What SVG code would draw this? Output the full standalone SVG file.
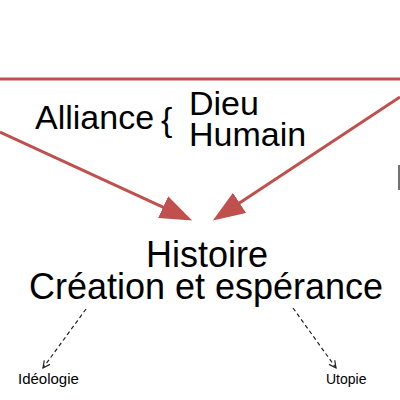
<svg xmlns="http://www.w3.org/2000/svg" width="400" height="400" viewBox="0 0 400 400">
<style>
.red{stroke:#c0504d;stroke-width:3;fill:none}
.dash{stroke:#222;stroke-width:1.2;stroke-dasharray:4 3;fill:none}
text{font-family:"Liberation Sans",Arial,sans-serif;fill:#000}
.big{font-size:34px}
.main{font-size:36px;text-anchor:middle}
</style>
<defs>
<marker id="ah" markerUnits="userSpaceOnUse" markerWidth="32" markerHeight="24" viewBox="0 0 32 24" refX="1" refY="12" orient="auto">
<path d="M0,0 L32,12 L0,24 z" fill="#c0504d"/>
</marker>
<marker id="oh" markerUnits="userSpaceOnUse" markerWidth="9" markerHeight="9" viewBox="0 0 9 9" refX="8" refY="4.5" orient="auto">
<path d="M1,1 L8,4.5 L1,8" fill="none" stroke="#222" stroke-width="1.2"/>
</marker>
</defs>
<g id="connectors">
<line class="red" x1="0" y1="79" x2="400" y2="79"/>
<line class="red" x1="0" y1="132" x2="164" y2="207.6" marker-end="url(#ah)"/>
<line class="red" x1="400" y1="97" x2="238.7" y2="203.4" marker-end="url(#ah)"/>
<line class="dash" x1="86" y1="309" x2="43" y2="368" marker-end="url(#oh)"/>
<line class="dash" x1="293" y1="308" x2="336" y2="368" marker-end="url(#oh)"/>
</g>
<g id="alliance">
<text class="big" x="35" y="129">Alliance</text>
<text class="big" x="161" y="131">{</text>
<text class="big" x="189" y="115">Dieu</text>
<text class="big" x="189" y="146">Humain</text>
</g>
<g id="histoire">
<text class="main" x="207" y="267">Histoire</text>
<text class="main" x="206" y="299">Création et espérance</text>
</g>
<g id="ideologie">
<text x="18" y="384" font-size="15">Idéologie</text>
</g>
<g id="utopie">
<text x="326" y="384" font-size="14">Utopie</text>
</g>
<line x1="399" y1="165" x2="399" y2="190" stroke="#444" stroke-width="1.5"/>
</svg>
